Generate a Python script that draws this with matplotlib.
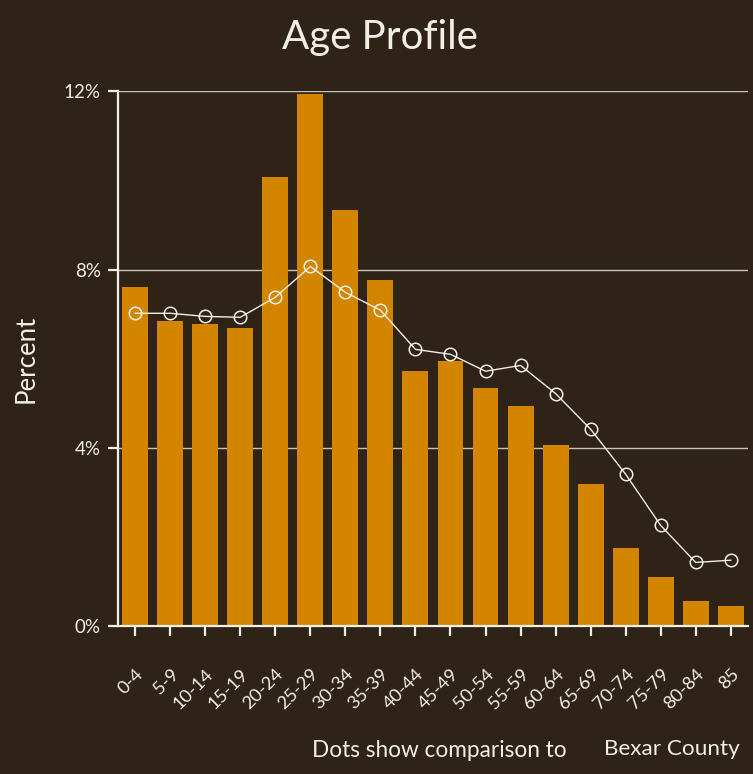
import matplotlib
matplotlib.use("Agg")
import matplotlib.pyplot as plt
import matplotlib.ticker as mticker
import matplotlib.transforms as mtransforms

categories = ["0-4", "5-9", "10-14", "15-19", "20-24", "25-29", "30-34", "35-39",
              "40-44", "45-49", "50-54", "55-59", "60-64", "65-69", "70-74",
              "75-79", "80-84", "85"]
area_pct = [7.62, 6.84, 6.77, 6.68, 10.07, 11.93, 9.33, 7.76, 5.72, 5.96, 5.34,
            4.93, 4.06, 3.18, 1.75, 1.10, 0.56, 0.45]
county_pct = [7.02, 7.02, 6.95, 6.93, 7.38, 8.07, 7.49, 7.09, 6.21, 6.10, 5.72,
              5.85, 5.22, 4.42, 3.41, 2.26, 1.43, 1.48]
y_ticks = [0, 4, 8, 12]

BG = "#2e2316"
BAR = "#d48500"
FG = "#f2efe9"
GRID = "#c9c4bb"

plt.rcParams["font.family"] = ["Lato", "DejaVu Sans"]

fig = plt.figure(figsize=(7.53, 7.74), dpi=100, facecolor=BG)
ax = fig.add_axes([0.157, 0.191, 0.836, 0.691], facecolor=BG)

x = list(range(len(categories)))
ax.bar(x, area_pct, width=0.74, color=BAR, zorder=2)
ax.plot(x, county_pct, color=FG, lw=1.0, zorder=3,
        marker="o", markersize=9, markerfacecolor="none",
        markeredgecolor=FG, markeredgewidth=1.1)

ax.set_xlim(-0.485, len(categories) - 1 + 0.485)
ax.set_ylim(0, 12)
ax.set_yticks(y_ticks)
ax.yaxis.set_major_formatter(mticker.FuncFormatter(lambda v, p: f"{v:.0f}%"))
ax.grid(axis="y", color=GRID, lw=1.0, zorder=1)
ax.set_axisbelow(True)

for s in ["top", "right"]:
    ax.spines[s].set_visible(False)
for s in ["left", "bottom"]:
    ax.spines[s].set_color(FG)
    ax.spines[s].set_linewidth(1.6)

ax.set_xticks(x)
ax.set_xticklabels(categories, rotation=45, ha="right", rotation_mode="anchor",
                   fontsize=13.2, color=FG)
offset = mtransforms.ScaledTranslation(-6 / 100, 0, fig.dpi_scale_trans)
for lab in ax.get_xticklabels():
    lab.set_transform(lab.get_transform() + offset)
ax.tick_params(axis="x", length=7.5, width=1.6, color=FG, pad=21)
ax.tick_params(axis="y", length=7, width=1.6, color=FG, labelsize=13.5,
               labelcolor=FG, pad=5.5)

ax.set_ylabel("Percent", color=FG, fontsize=18.5, labelpad=18)

fig.text(0.505, 0.951, "Age Profile", ha="center", va="center", fontsize=29, color=FG)
fig.text(0.415, 0.030, "Dots show comparison to", ha="left", va="center",
         fontsize=16.3, color=FG)
fig.text(0.802, 0.032, "Bexar County", ha="left", va="center",
         fontsize=16.2, color=FG)

fig.savefig("out.png", dpi=100, facecolor=BG)
